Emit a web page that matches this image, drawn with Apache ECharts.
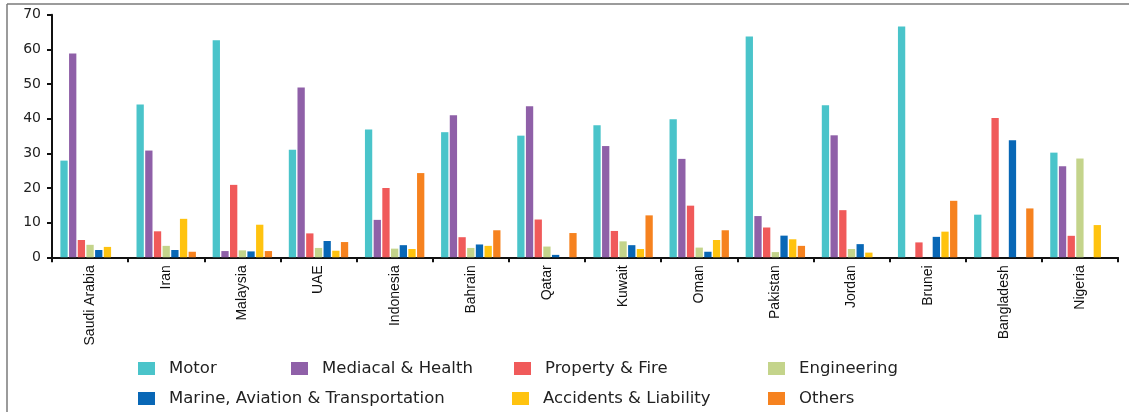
<!DOCTYPE html>
<html>
<head>
<meta charset="utf-8">
<script src="https://cdn.jsdelivr.net/npm/echarts@6/dist/echarts.min.js"></script>
<style>
html,body{margin:0;padding:0;background:#fff;}
#chart{width:1129px;height:412px;}
</style>
</head>
<body>
<div id="chart"></div>
<script>
const categories = ['Saudi Arabia','Iran','Malaysia','UAE','Indonesia','Bahrain','Qatar','Kuwait','Oman','Pakistan','Jordan','Brunei','Bangladesh','Nigeria'];
const seriesNames = ['Motor','Mediacal & Health','Property & Fire','Engineering','Marine, Aviation & Transportation','Accidents & Liability','Others'];
const motor       = [27.9, 44.1, 62.6, 31.0, 36.9, 36.1, 35.1, 38.1, 39.8, 63.7, 43.9, 66.6, 12.3, 30.2];
const medical     = [58.8, 30.8, 1.8, 49.0, 10.8, 41.0, 43.6, 32.1, 28.4, 11.9, 35.2, 0, 0, 26.3];
const property    = [5.0, 7.5, 20.9, 6.9, 20.0, 5.8, 10.9, 7.6, 14.9, 8.6, 13.6, 4.3, 40.2, 6.2];
const engineering = [3.6, 3.3, 2.0, 2.7, 2.5, 2.7, 3.1, 4.6, 2.8, 1.5, 2.4, 0, 0, 28.5];
const marine      = [2.1, 2.1, 1.7, 4.7, 3.5, 3.7, 0.7, 3.5, 1.6, 6.25, 3.8, 5.9, 33.8, 0];
const accidents   = [3.0, 11.1, 9.4, 1.9, 2.4, 3.3, 0, 2.4, 5.0, 5.2, 1.35, 7.4, 0, 9.3];
const others      = [0, 1.6, 1.8, 4.4, 24.3, 7.8, 7.0, 12.1, 7.8, 3.3, 0, 16.3, 14.1, 0];
const yTicks = [0, 10, 20, 30, 40, 50, 60, 70];

const values = [motor, medical, property, engineering, marine, accidents, others];
const colors = ['#4AC4CA','#8F60A8','#F05A5A','#C4D48B','#0867B6','#FFC30F','#F6821F'];

// legend placements (icon left x, row top y)
const legendPos = [
  [138, 360], [291, 360], [514, 360], [768, 360],
  [138, 390], [512, 390], [768, 390]
];

const chart = echarts.init(document.getElementById('chart'));
const option = {
  animation: false,
  backgroundColor: '#fff',
  graphic: [
    {type:'line', shape:{x1:7, y1:4, x2:1129, y2:4}, style:{stroke:'#7a7a7a', lineWidth:1.5}},
    {type:'line', shape:{x1:7, y1:4, x2:7, y2:412}, style:{stroke:'#7a7a7a', lineWidth:1.5}}
  ],
  grid: {left: 52, right: 11, top: 14.7, bottom: 154.7, containLabel: false},
  legend: seriesNames.map((n, i) => ({
    data: [n],
    left: legendPos[i][0],
    top: legendPos[i][1],
    padding: 0,
    itemWidth: 17,
    itemHeight: 13,
    icon: 'rect',
    selectedMode: false,
    textStyle: {fontFamily: 'DejaVu Sans', fontSize: 16.5, color: '#222', padding: [0, 0, 0, 9]}
  })),
  xAxis: {
    type: 'category',
    data: categories,
    axisLine: {lineStyle: {color: '#111', width: 2}},
    axisTick: {show: true, length: 5, lineStyle: {color: '#111', width: 2}},
    axisLabel: {rotate: 90, fontFamily: 'Liberation Sans', fontSize: 14, color: '#111', margin: 8, interval: 0}
  },
  yAxis: {
    type: 'value',
    min: yTicks[0],
    max: yTicks[yTicks.length - 1],
    interval: 10,
    axisLine: {show: true, lineStyle: {color: '#111', width: 2}},
    axisTick: {show: true, length: 5, lineStyle: {color: '#111', width: 2}},
    axisLabel: {fontFamily: 'DejaVu Sans', fontSize: 14, color: '#222', margin: 11},
    splitLine: {show: false}
  },
  series: seriesNames.map((n, i) => ({
    name: n,
    type: 'bar',
    data: values[i],
    barGap: '19%',
    barCategoryGap: '22%',
    itemStyle: {color: colors[i]}
  }))
};
chart.setOption(option);
</script>
</body>
</html>
